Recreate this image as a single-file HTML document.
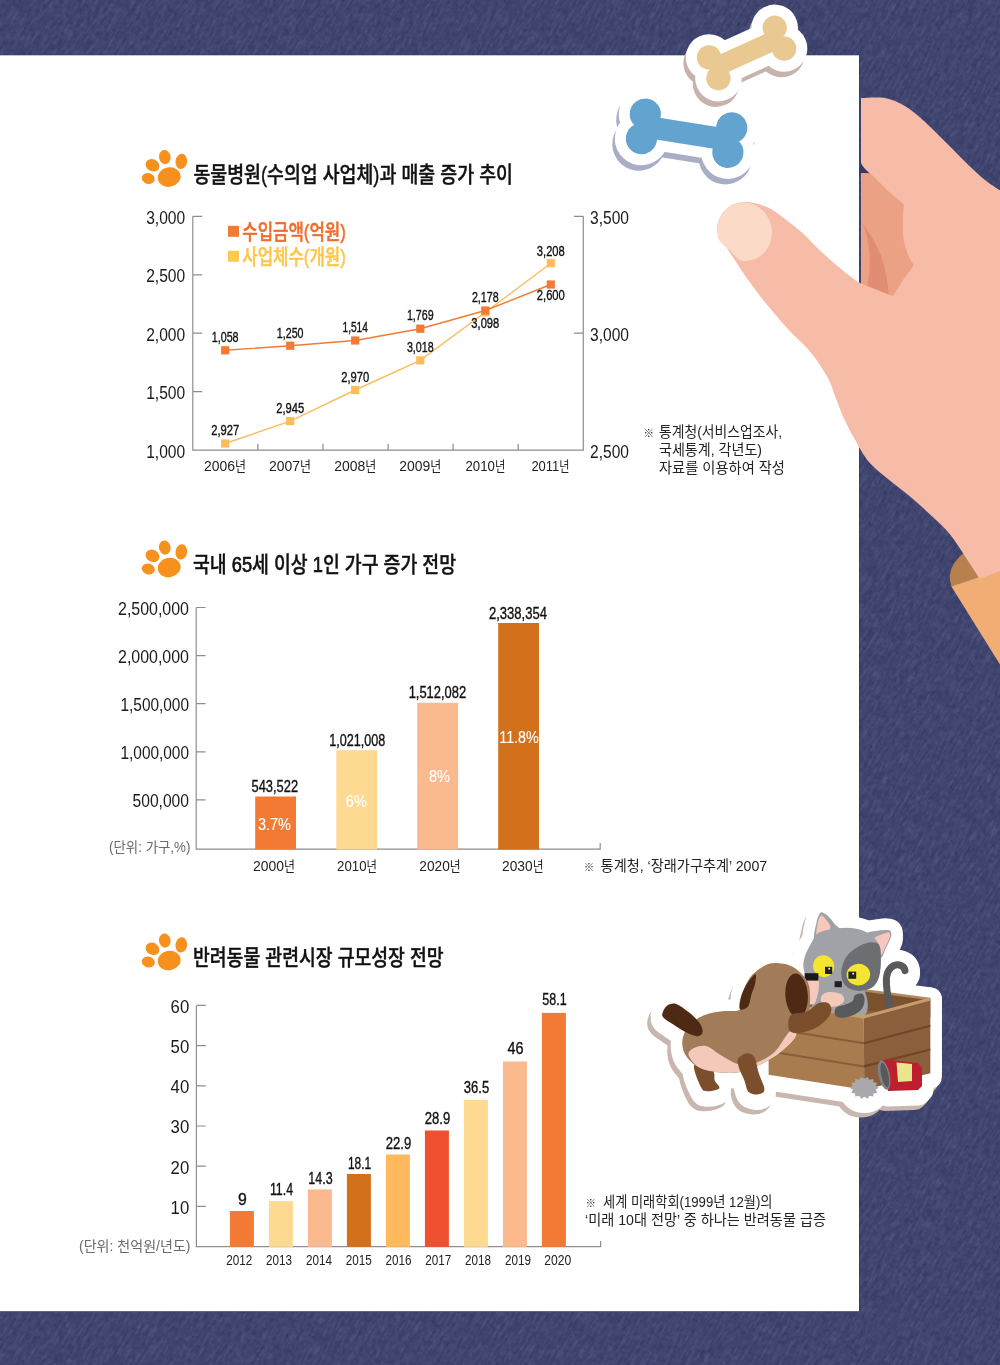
<!DOCTYPE html>
<html lang="ko">
<head>
<meta charset="utf-8">
<title>반려동물 관련 통계</title>
<style>
html,body{margin:0;padding:0;background:#3e446d;}
body{width:1000px;height:1365px;overflow:hidden;}
svg{display:block;font-family:'Liberation Sans','Noto Sans CJK KR',sans-serif;}
text{white-space:pre;}
</style>
</head>
<body>
<svg width="1000" height="1365" viewBox="0 0 1000 1365">
<defs>
<filter id="tex" x="0" y="0" width="100%" height="100%" color-interpolation-filters="sRGB">
<feTurbulence type="fractalNoise" baseFrequency="0.07 0.4" numOctaves="3" seed="11" result="n"/>
<feColorMatrix in="n" type="matrix" values="0 0 0 0 0.44  0 0 0 0 0.46  0 0 0 0 0.66  1.6 1.6 0 0 -1.25"/>
</filter>
<filter id="tex2" x="0" y="0" width="100%" height="100%" color-interpolation-filters="sRGB">
<feTurbulence type="fractalNoise" baseFrequency="0.22" numOctaves="3" seed="3" result="n"/>
<feColorMatrix in="n" type="matrix" values="0 0 0 0 0.15  0 0 0 0 0.16  0 0 0 0 0.32  1.6 0 1.6 0 -1.3"/>
</filter>
<g id="bnT" transform="translate(746.6,53) rotate(-24.3)"><rect x="-36" y="-9.75" width="72" height="19.5"/><circle cx="-36" cy="-11.4" r="12.2"/><circle cx="-36" cy="11.4" r="12.2"/><circle cx="36" cy="-11.4" r="12.2"/><circle cx="36" cy="11.4" r="12.2"/></g><g id="bnB" transform="translate(686.6,133.2) rotate(9)"><rect x="-43.75" y="-11" width="87.5" height="22"/><circle cx="-43.75" cy="-12.4" r="15.6"/><circle cx="-43.75" cy="12.4" r="15.6"/><circle cx="43.75" cy="-12.4" r="15.6"/><circle cx="43.75" cy="12.4" r="15.6"/></g>
<g id="anim"><path d="M662.5 1012.9C663.1 1011.0 664.8 1007.2 667.0 1005.7C669.2 1004.2 672.4 1002.9 676.0 1003.9C679.6 1004.9 684.7 1008.9 688.6 1012.0C692.5 1015.1 697.1 1019.5 699.4 1022.8C701.7 1026.1 702.9 1029.5 702.6 1031.8C702.3 1034.0 700.5 1036.3 697.6 1036.3C694.7 1036.3 689.5 1034.0 685.0 1031.8C680.5 1029.5 674.2 1025.2 670.6 1022.8C667.0 1020.4 664.8 1019.0 663.4 1017.4C662.0 1015.8 661.9 1014.8 662.5 1012.9Z" /><path d="M775.0 963.0C780.1 963.0 787.6 963.9 793.0 967.0C798.4 970.1 804.5 976.0 807.4 981.4C810.2 986.8 810.1 993.7 810.1 999.4C810.1 1005.1 809.4 1010.5 807.4 1015.6C805.4 1020.7 800.8 1025.8 798.4 1030.0C796.0 1034.2 796.6 1036.6 793.0 1040.8C789.4 1045.0 782.8 1051.0 776.8 1055.2C770.8 1059.4 763.3 1063.2 757.0 1066.0C750.7 1068.8 745.6 1071.2 739.0 1072.3C732.4 1073.3 724.0 1073.0 717.4 1072.3C710.8 1071.5 704.5 1070.3 699.4 1067.8C694.3 1065.2 689.6 1060.9 686.8 1057.0C683.9 1053.1 682.6 1048.6 682.3 1044.4C682.0 1040.2 683.0 1035.7 685.0 1031.8C687.0 1027.9 690.1 1024.0 694.0 1021.0C697.9 1018.0 703.3 1015.4 708.4 1013.8C713.5 1012.1 719.2 1011.9 724.6 1011.1C730.0 1010.4 737.8 1012.1 740.8 1009.3C743.8 1006.4 741.1 999.2 742.6 994.0C744.1 988.8 746.5 982.3 749.8 977.8C753.1 973.3 758.2 969.5 762.4 967.0C766.6 964.5 769.9 963.0 775.0 963.0Z" /><path d="M694.0 1066.0C693.2 1070.3 699.1 1083.4 701.2 1087.6C703.3 1091.8 703.9 1090.9 706.6 1091.2C709.3 1091.5 715.3 1090.2 717.4 1089.4C719.5 1088.7 719.7 1088.2 719.2 1086.7C718.8 1085.2 715.6 1082.8 714.7 1080.4C713.8 1078.0 715.2 1075.4 713.8 1072.3C712.3 1069.2 709.3 1063.0 706.0 1062.0C702.7 1061.0 694.8 1061.7 694.0 1066.0Z" /><path d="M738.1 1058.8C739.3 1056.4 743.5 1053.7 746.2 1053.4C748.9 1053.1 752.2 1053.7 754.3 1057.0C756.4 1060.3 757.1 1068.1 758.8 1073.2C760.4 1078.3 763.6 1084.3 764.2 1087.6C764.8 1090.9 763.9 1091.9 762.4 1093.0C760.9 1094.1 757.6 1094.7 755.2 1094.4C752.8 1094.1 749.8 1093.5 748.0 1091.2C746.2 1088.9 745.9 1084.3 744.4 1080.4C742.9 1076.5 740.0 1071.4 739.0 1067.8C738.0 1064.2 736.9 1061.2 738.1 1058.8Z" /><path d="M790.8 1015.2C793.8 1012.2 802.5 1013.6 807.0 1011.6C811.5 1009.6 814.5 1005.0 817.8 1003.5C821.1 1002.0 824.5 1001.9 826.8 1002.6C829.0 1003.4 831.0 1005.6 831.3 1008.0C831.6 1010.4 831.1 1013.7 828.6 1017.0C826.1 1020.3 821.1 1025.1 816.0 1027.8C810.9 1030.5 802.5 1032.9 798.0 1033.2C793.5 1033.5 790.2 1032.6 789.0 1029.6C787.8 1026.6 787.8 1018.2 790.8 1015.2Z" /><path d="M819.0 932.6C823.2 930.3 831.0 929.1 837.0 928.4C843.0 927.7 849.6 927.5 855.0 928.4C860.4 929.3 865.4 931.1 869.4 933.8C873.4 936.5 877.1 940.4 879.0 944.6C880.9 948.8 880.8 953.6 880.8 959.0C880.8 964.4 880.5 972.2 879.0 977.0C877.5 981.8 875.8 985.4 871.8 987.8C867.8 990.2 860.8 991.2 855.0 991.4C849.2 991.6 842.6 989.8 837.0 989.0C831.4 988.2 826.2 988.2 821.4 986.6C816.6 985.0 811.2 982.6 808.2 979.4C805.2 976.2 803.9 971.4 803.4 967.4C802.9 963.4 803.8 959.6 805.2 955.4C806.6 951.2 809.5 946.0 811.8 942.2C814.1 938.4 814.8 934.9 819.0 932.6Z" /><path d="M815.2 940.0C812.1 938.9 815.7 926.7 816.4 923.0C817.1 919.3 819.1 913.6 820.6 912.6C822.1 911.6 825.5 914.1 827.4 915.6C829.3 917.1 833.1 922.1 834.8 924.2C836.5 926.3 842.6 928.9 840.0 931.0C837.4 933.1 818.3 941.1 815.2 940.0Z" /><path d="M866.0 935.0C865.9 931.3 875.8 931.2 879.0 930.6C882.2 930.0 888.2 929.7 889.8 930.4C891.4 931.1 891.7 934.0 891.2 936.2C890.7 938.4 888.0 944.0 886.4 947.0C884.8 950.0 882.2 960.1 879.5 958.5C876.8 956.9 866.1 938.7 866.0 935.0Z" /><polygon points="768.6,1001.5 863.7,1017 930.3,999 835.3,986.5" /><polygon points="768.6,1001.5 863.7,1017 864.3,1089.7 768.6,1074.8" /><polygon points="863.7,1017 930.3,999 930.3,1073.2 864.3,1089.7" /><path d="M889.8 1008 C888 998 886 988 886.4 979.4 C886.8 968 894 964 899.5 965 C903 965.8 904.6 968 905 970.6" fill="none" stroke-width="30" stroke-linecap="round"/><ellipse cx="864.3" cy="1087.5" rx="13" ry="10"/><path d="M884 1059.5L918 1063L922 1068L922 1086L918 1090L888 1091Z"/><ellipse cx="796.6" cy="995.4" rx="11.2" ry="22"/></g><clipPath id="dogclip"><path d="M775.0 963.0C780.1 963.0 787.6 963.9 793.0 967.0C798.4 970.1 804.5 976.0 807.4 981.4C810.2 986.8 810.1 993.7 810.1 999.4C810.1 1005.1 809.4 1010.5 807.4 1015.6C805.4 1020.7 800.8 1025.8 798.4 1030.0C796.0 1034.2 796.6 1036.6 793.0 1040.8C789.4 1045.0 782.8 1051.0 776.8 1055.2C770.8 1059.4 763.3 1063.2 757.0 1066.0C750.7 1068.8 745.6 1071.2 739.0 1072.3C732.4 1073.3 724.0 1073.0 717.4 1072.3C710.8 1071.5 704.5 1070.3 699.4 1067.8C694.3 1065.2 689.6 1060.9 686.8 1057.0C683.9 1053.1 682.6 1048.6 682.3 1044.4C682.0 1040.2 683.0 1035.7 685.0 1031.8C687.0 1027.9 690.1 1024.0 694.0 1021.0C697.9 1018.0 703.3 1015.4 708.4 1013.8C713.5 1012.1 719.2 1011.9 724.6 1011.1C730.0 1010.4 737.8 1012.1 740.8 1009.3C743.8 1006.4 741.1 999.2 742.6 994.0C744.1 988.8 746.5 982.3 749.8 977.8C753.1 973.3 758.2 969.5 762.4 967.0C766.6 964.5 769.9 963.0 775.0 963.0Z"/></clipPath><clipPath id="cheadclip"><path d="M819.0 932.6C823.2 930.3 831.0 929.1 837.0 928.4C843.0 927.7 849.6 927.5 855.0 928.4C860.4 929.3 865.4 931.1 869.4 933.8C873.4 936.5 877.1 940.4 879.0 944.6C880.9 948.8 880.8 953.6 880.8 959.0C880.8 964.4 880.5 972.2 879.0 977.0C877.5 981.8 875.8 985.4 871.8 987.8C867.8 990.2 860.8 991.2 855.0 991.4C849.2 991.6 842.6 989.8 837.0 989.0C831.4 988.2 826.2 988.2 821.4 986.6C816.6 985.0 811.2 982.6 808.2 979.4C805.2 976.2 803.9 971.4 803.4 967.4C802.9 963.4 803.8 959.6 805.2 955.4C806.6 951.2 809.5 946.0 811.8 942.2C814.1 938.4 814.8 934.9 819.0 932.6Z"/></clipPath>
<clipPath id="thumbclip"><path d="M861.0 98.2C863.3 98.1 870.5 97.5 875.0 97.6C879.5 97.7 883.4 97.4 888.3 98.8C893.2 100.2 899.0 102.6 904.4 105.8C909.8 109.0 915.2 113.3 920.6 117.9C926.0 122.5 931.3 128.0 936.7 133.2C942.1 138.4 947.4 143.9 952.8 149.3C958.2 154.7 963.5 160.3 968.9 165.4C974.3 170.5 979.6 175.6 985.0 179.9C990.4 184.2 998.3 189.2 1001.0 191.0L1001 191 L1001 570.6 L979.6 578.8L962.6 552.5C960.4 549.4 954.6 539.8 949.5 533.8C944.4 527.8 938.6 522.5 932.0 516.3C925.4 510.1 917.3 502.7 910.0 496.5C902.7 490.3 894.6 484.5 888.0 479.0C881.4 473.5 875.0 468.7 870.3 463.5C865.5 458.3 861.9 451.8 859.5 448.0C857.1 444.2 857.4 443.6 855.9 441.0C854.4 438.4 852.5 435.4 850.7 432.2C849.0 429.0 847.2 425.4 845.4 421.6C843.6 417.8 841.9 413.7 840.1 409.3C838.3 404.9 836.5 400.0 834.8 395.3C833.0 390.6 831.6 385.6 829.6 381.2C827.6 376.8 824.9 372.7 822.5 368.9C820.1 365.1 818.1 361.9 815.5 358.4C812.9 354.9 809.6 351.0 806.7 347.8C803.8 344.6 800.8 341.9 797.9 339.0C795.0 336.1 792.0 333.3 789.1 330.2C786.2 327.1 783.2 323.9 780.3 320.5C777.4 317.1 774.4 313.5 771.5 310.0C768.6 306.5 765.6 303.2 762.7 299.5C759.8 295.8 756.9 292.0 754.0 288.0C751.1 284.0 748.1 279.9 745.2 275.7C742.3 271.4 739.3 266.9 736.4 262.5C733.5 258.1 730.2 253.1 727.6 249.3C725.0 245.5 722.3 242.5 720.5 239.5C718.7 236.5 717.5 234.1 717.0 231.5C716.5 228.9 716.8 226.9 717.6 224.0C718.4 221.1 719.9 217.0 722.0 214.0C724.1 211.0 727.0 208.1 730.0 206.2C733.0 204.3 736.5 203.2 740.0 202.6C743.5 202.0 746.3 201.8 751.0 202.6C755.7 203.4 762.3 204.9 768.0 207.6C773.7 210.3 779.3 214.8 785.0 218.9C790.7 223.1 796.3 227.4 802.0 232.5C807.7 237.6 813.3 244.1 819.0 249.5C824.7 254.9 830.3 260.0 836.0 264.8C841.7 269.6 848.8 275.3 853.0 278.4C857.2 281.5 859.7 282.6 861.0 283.5L861 283.5 Z"/></clipPath>
</defs>
<rect width="1000" height="1365" fill="#3e446d"/>
<g transform="rotate(-58 500 682)"><rect x="-500" y="-400" width="2000" height="2200" filter="url(#tex)" opacity="0.3"/></g>
<rect width="1000" height="1365" filter="url(#tex2)" opacity="0.3"/>
<rect x="-1" y="54.6" width="860.6" height="1257.2" fill="#2f3560" opacity="0.55"/>
<rect x="-1" y="55.3" width="860" height="1255.9" fill="#fff"/>
<path d="M966 551 Q950.5 563 949.8 575.5 Q949.6 581 951.4 586.6 L985 582 L985 560 Z" fill="#b9804f"/>
<path d="M951.4 586.4 L1001 570 L1001 666 Z" fill="#f0ad74"/>
<path d="M861.0 98.2C863.3 98.1 870.5 97.5 875.0 97.6C879.5 97.7 883.4 97.4 888.3 98.8C893.2 100.2 899.0 102.6 904.4 105.8C909.8 109.0 915.2 113.3 920.6 117.9C926.0 122.5 931.3 128.0 936.7 133.2C942.1 138.4 947.4 143.9 952.8 149.3C958.2 154.7 963.5 160.3 968.9 165.4C974.3 170.5 979.6 175.6 985.0 179.9C990.4 184.2 998.3 189.2 1001.0 191.0L1001 191 L1001 570.6 L979.6 578.8L962.6 552.5C960.4 549.4 954.6 539.8 949.5 533.8C944.4 527.8 938.6 522.5 932.0 516.3C925.4 510.1 917.3 502.7 910.0 496.5C902.7 490.3 894.6 484.5 888.0 479.0C881.4 473.5 875.0 468.7 870.3 463.5C865.5 458.3 861.9 451.8 859.5 448.0C857.1 444.2 857.4 443.6 855.9 441.0C854.4 438.4 852.5 435.4 850.7 432.2C849.0 429.0 847.2 425.4 845.4 421.6C843.6 417.8 841.9 413.7 840.1 409.3C838.3 404.9 836.5 400.0 834.8 395.3C833.0 390.6 831.6 385.6 829.6 381.2C827.6 376.8 824.9 372.7 822.5 368.9C820.1 365.1 818.1 361.9 815.5 358.4C812.9 354.9 809.6 351.0 806.7 347.8C803.8 344.6 800.8 341.9 797.9 339.0C795.0 336.1 792.0 333.3 789.1 330.2C786.2 327.1 783.2 323.9 780.3 320.5C777.4 317.1 774.4 313.5 771.5 310.0C768.6 306.5 765.6 303.2 762.7 299.5C759.8 295.8 756.9 292.0 754.0 288.0C751.1 284.0 748.1 279.9 745.2 275.7C742.3 271.4 739.3 266.9 736.4 262.5C733.5 258.1 730.2 253.1 727.6 249.3C725.0 245.5 722.3 242.5 720.5 239.5C718.7 236.5 717.5 234.1 717.0 231.5C716.5 228.9 716.8 226.9 717.6 224.0C718.4 221.1 719.9 217.0 722.0 214.0C724.1 211.0 727.0 208.1 730.0 206.2C733.0 204.3 736.5 203.2 740.0 202.6C743.5 202.0 746.3 201.8 751.0 202.6C755.7 203.4 762.3 204.9 768.0 207.6C773.7 210.3 779.3 214.8 785.0 218.9C790.7 223.1 796.3 227.4 802.0 232.5C807.7 237.6 813.3 244.1 819.0 249.5C824.7 254.9 830.3 260.0 836.0 264.8C841.7 269.6 848.8 275.3 853.0 278.4C857.2 281.5 859.7 282.6 861.0 283.5L861 283.5 Z" fill="#f6bca7"/>
<path d="M860.2 161.5 Q863 168 870 173.4 L860.2 173.4Z" fill="#343a62"/>
<path d="M861 173 L870.6 173.4 L888.3 191.2 L903.8 204.2 Q902.4 221 903 235 Q905 252 913.8 265.3 Q903 279 893 296 L861 283.5Z" fill="#eba284"/>
<path d="M862.4 223.4 Q874 238 881.5 257 Q887.5 276 888.8 294.4 L867.4 286 Q871.5 266 868.4 244 Q866.5 232 862.4 223.4Z" fill="#e08d73"/>
<ellipse cx="744.5" cy="231.7" rx="27.3" ry="29.3" transform="rotate(-12 744.5 231.7)" fill="#fbdbc8" clip-path="url(#thumbclip)"/>
<use href="#bnB" transform="translate(-2.5,5.5)" fill="#a8aec6" stroke="#a8aec6" stroke-width="22" stroke-linejoin="round"/>
<use href="#bnB" fill="#fff" stroke="#fff" stroke-width="22" stroke-linejoin="round"/>
<use href="#bnB" fill="#62a3d0"/>
<use href="#bnT" transform="translate(-2.5,5.5)" fill="#c7b3ab" stroke="#c7b3ab" stroke-width="22" stroke-linejoin="round"/>
<use href="#bnT" fill="#fff" stroke="#fff" stroke-width="22" stroke-linejoin="round"/>
<use href="#bnT" fill="#eac892"/>
<g transform="translate(142,150)" fill="#f7911e"><ellipse cx="27.2" cy="27.1" rx="11.5" ry="9.7" transform="rotate(-12 27.2 27.1)"/><ellipse cx="6.3" cy="28.5" rx="6.6" ry="5.4" transform="rotate(18 6.3 28.5)"/><ellipse cx="10.5" cy="15.3" rx="7.2" ry="6" transform="rotate(28 10.5 15.3)"/><ellipse cx="22.8" cy="7.1" rx="5.8" ry="7.1" transform="rotate(-10 22.8 7.1)"/><ellipse cx="39.3" cy="11.4" rx="5.8" ry="7.6" transform="rotate(8 39.3 11.4)"/></g>
<text x="193.4" y="181.6" font-size="21.3" textLength="319.5" lengthAdjust="spacingAndGlyphs" font-weight="500" fill="#111" stroke="#111" stroke-width="0.4">동물병원(수의업 사업체)과 매출 증가 추이</text>
<path d="M192.8 216.3V450.2H583.3V216.3M192.8 216.3h9.4M192.8 274.8h9.4M192.8 333.2h9.4M192.8 391.7h9.4M192.8 450.2h9.4M583.3 216.3h-9.4M583.3 333.2h-9.4M583.3 450.2h-9.4M257.9 450.2v-6.5M323.0 450.2v-6.5M388.1 450.2v-6.5M453.1 450.2v-6.5M518.2 450.2v-6.5" fill="none" stroke="#8e8e8e" stroke-width="1.2"/>
<text x="146.2" y="223.9" font-size="17.5" textLength="39" lengthAdjust="spacingAndGlyphs" fill="#1a1a1a">3,000</text>
<text x="146.2" y="282.375" font-size="17.5" textLength="39" lengthAdjust="spacingAndGlyphs" fill="#1a1a1a">2,500</text>
<text x="146.2" y="340.85" font-size="17.5" textLength="39" lengthAdjust="spacingAndGlyphs" fill="#1a1a1a">2,000</text>
<text x="146.2" y="399.325" font-size="17.5" textLength="39" lengthAdjust="spacingAndGlyphs" fill="#1a1a1a">1,500</text>
<text x="146.2" y="457.8" font-size="17.5" textLength="39" lengthAdjust="spacingAndGlyphs" fill="#1a1a1a">1,000</text>
<text x="590" y="223.9" font-size="17.5" textLength="39" lengthAdjust="spacingAndGlyphs" fill="#1a1a1a">3,500</text>
<text x="590" y="340.85" font-size="17.5" textLength="39" lengthAdjust="spacingAndGlyphs" fill="#1a1a1a">3,000</text>
<text x="590" y="457.8" font-size="17.5" textLength="39" lengthAdjust="spacingAndGlyphs" fill="#1a1a1a">2,500</text>
<rect x="228" y="225.8" width="11" height="11" fill="#f27a35"/>
<rect x="228" y="250.8" width="11" height="11" fill="#fdc952"/>
<text x="242.3" y="238.6" font-size="21" textLength="103.5" lengthAdjust="spacingAndGlyphs" font-weight="500" fill="#f26c2b" stroke="#f26c2b" stroke-width="0.5">수입금액(억원)</text>
<text x="242.3" y="264.3" font-size="21" textLength="103.5" lengthAdjust="spacingAndGlyphs" font-weight="500" fill="#fdc64a" stroke="#fdc64a" stroke-width="0.5">사업체수(개원)</text>
<polyline points="225.2,443.5 290.2,421.1 355.2,390 420.3,360.4 485.3,312.3 550.8,263.2" fill="none" stroke="#fdbc5c" stroke-width="1.4"/><rect x="221.1" y="439.4" width="8.2" height="8.2" fill="#fdbc5c"/><rect x="286.1" y="417" width="8.2" height="8.2" fill="#fdbc5c"/><rect x="351.1" y="385.9" width="8.2" height="8.2" fill="#fdbc5c"/><rect x="416.2" y="356.3" width="8.2" height="8.2" fill="#fdbc5c"/><rect x="481.2" y="308.2" width="8.2" height="8.2" fill="#fdbc5c"/><rect x="546.7" y="259.1" width="8.2" height="8.2" fill="#fdbc5c"/>
<polyline points="225.2,350.3 290.2,345.7 355.2,340.5 420.3,328.7 485.3,310.5 550.8,284.5" fill="none" stroke="#f27a35" stroke-width="1.4"/><rect x="221.1" y="346.2" width="8.2" height="8.2" fill="#f27a35"/><rect x="286.1" y="341.6" width="8.2" height="8.2" fill="#f27a35"/><rect x="351.1" y="336.4" width="8.2" height="8.2" fill="#f27a35"/><rect x="416.2" y="324.6" width="8.2" height="8.2" fill="#f27a35"/><rect x="481.2" y="306.4" width="8.2" height="8.2" fill="#f27a35"/><rect x="546.7" y="280.4" width="8.2" height="8.2" fill="#f27a35"/>
<text x="211.85" y="342.3" font-size="14.2" textLength="26.7" lengthAdjust="spacingAndGlyphs" fill="#111" stroke="#111" stroke-width="0.35">1,058</text>
<text x="276.85" y="337.5" font-size="14.2" textLength="26.7" lengthAdjust="spacingAndGlyphs" fill="#111" stroke="#111" stroke-width="0.35">1,250</text>
<text x="342.5" y="332" font-size="14.2" textLength="25.4" lengthAdjust="spacingAndGlyphs" fill="#111" stroke="#111" stroke-width="0.35">1,514</text>
<text x="406.95" y="320.2" font-size="14.2" textLength="26.7" lengthAdjust="spacingAndGlyphs" fill="#111" stroke="#111" stroke-width="0.35">1,769</text>
<text x="471.95" y="302.2" font-size="14.2" textLength="26.7" lengthAdjust="spacingAndGlyphs" fill="#111" stroke="#111" stroke-width="0.35">2,178</text>
<text x="536.8" y="300.2" font-size="14.2" textLength="28" lengthAdjust="spacingAndGlyphs" fill="#111" stroke="#111" stroke-width="0.35">2,600</text>
<text x="211.2" y="435.2" font-size="14.2" textLength="28" lengthAdjust="spacingAndGlyphs" fill="#111" stroke="#111" stroke-width="0.35">2,927</text>
<text x="276.2" y="413" font-size="14.2" textLength="28" lengthAdjust="spacingAndGlyphs" fill="#111" stroke="#111" stroke-width="0.35">2,945</text>
<text x="341.2" y="381.8" font-size="14.2" textLength="28" lengthAdjust="spacingAndGlyphs" fill="#111" stroke="#111" stroke-width="0.35">2,970</text>
<text x="406.95" y="351.5" font-size="14.2" textLength="26.7" lengthAdjust="spacingAndGlyphs" fill="#111" stroke="#111" stroke-width="0.35">3,018</text>
<text x="471.3" y="328.2" font-size="14.2" textLength="28" lengthAdjust="spacingAndGlyphs" fill="#111" stroke="#111" stroke-width="0.35">3,098</text>
<text x="536.8" y="255.8" font-size="14.2" textLength="28" lengthAdjust="spacingAndGlyphs" fill="#111" stroke="#111" stroke-width="0.35">3,208</text>
<text x="204" y="471.2" font-size="15.4" textLength="42" lengthAdjust="spacingAndGlyphs" fill="#222"><tspan font-size="15.4">2006</tspan><tspan font-size="13.2">년</tspan></text>
<text x="269.1" y="471.2" font-size="15.4" textLength="42" lengthAdjust="spacingAndGlyphs" fill="#222"><tspan font-size="15.4">2007</tspan><tspan font-size="13.2">년</tspan></text>
<text x="334.2" y="471.2" font-size="15.4" textLength="42" lengthAdjust="spacingAndGlyphs" fill="#222"><tspan font-size="15.4">2008</tspan><tspan font-size="13.2">년</tspan></text>
<text x="399.3" y="471.2" font-size="15.4" textLength="42" lengthAdjust="spacingAndGlyphs" fill="#222"><tspan font-size="15.4">2009</tspan><tspan font-size="13.2">년</tspan></text>
<text x="465.5" y="471.2" font-size="15.4" textLength="39.8" lengthAdjust="spacingAndGlyphs" fill="#222"><tspan font-size="15.4">2010</tspan><tspan font-size="13.2">년</tspan></text>
<text x="531.4" y="471.2" font-size="15.4" textLength="38.2" lengthAdjust="spacingAndGlyphs" fill="#222"><tspan font-size="15.4">2011</tspan><tspan font-size="13.2">년</tspan></text>
<text x="643.4" y="437.4" font-size="10.5" fill="#222">※</text>
<text x="659" y="437" font-size="14.5" textLength="123" lengthAdjust="spacingAndGlyphs" fill="#222">통계청(서비스업조사,</text>
<text x="659" y="455.2" font-size="14.5" textLength="103" lengthAdjust="spacingAndGlyphs" fill="#222">국세통계, 각년도)</text>
<text x="659" y="473.4" font-size="14.5" textLength="126" lengthAdjust="spacingAndGlyphs" fill="#222">자료를 이용하여 작성</text>
<g transform="translate(142,540.5)" fill="#f7911e"><ellipse cx="27.2" cy="27.1" rx="11.5" ry="9.7" transform="rotate(-12 27.2 27.1)"/><ellipse cx="6.3" cy="28.5" rx="6.6" ry="5.4" transform="rotate(18 6.3 28.5)"/><ellipse cx="10.5" cy="15.3" rx="7.2" ry="6" transform="rotate(28 10.5 15.3)"/><ellipse cx="22.8" cy="7.1" rx="5.8" ry="7.1" transform="rotate(-10 22.8 7.1)"/><ellipse cx="39.3" cy="11.4" rx="5.8" ry="7.6" transform="rotate(8 39.3 11.4)"/></g>
<text x="193" y="571.6" font-size="21.3" textLength="263" lengthAdjust="spacingAndGlyphs" font-weight="500" fill="#111" stroke="#111" stroke-width="0.4">국내 <tspan stroke-width="0.7">65</tspan>세 이상 <tspan stroke-width="0.7">1</tspan>인 가구 증가 전망</text>
<path d="M196.2 607.5V849.2H600.2v-6.3M196.2 607.5h9.4M196.2 655.6h9.4M196.2 703.7h9.4M196.2 751.8h9.4M196.2 799.9h9.4" fill="none" stroke="#8e8e8e" stroke-width="1.2"/>
<text x="118" y="614.9" font-size="17.5" textLength="71" lengthAdjust="spacingAndGlyphs" fill="#1a1a1a">2,500,000</text>
<text x="118" y="663" font-size="17.5" textLength="71" lengthAdjust="spacingAndGlyphs" fill="#1a1a1a">2,000,000</text>
<text x="120.5" y="711.1" font-size="17.5" textLength="68.5" lengthAdjust="spacingAndGlyphs" fill="#1a1a1a">1,500,000</text>
<text x="120.5" y="759.2" font-size="17.5" textLength="68.5" lengthAdjust="spacingAndGlyphs" fill="#1a1a1a">1,000,000</text>
<text x="132.5" y="807.3" font-size="17.5" textLength="56.5" lengthAdjust="spacingAndGlyphs" fill="#1a1a1a">500,000</text>
<rect x="255.2" y="796.5" width="40.8" height="53" fill="#f27a35"/>
<rect x="336.3" y="750.2" width="40.8" height="99.3" fill="#fdd992"/>
<rect x="417.3" y="702.8" width="40.8" height="146.7" fill="#fbb98e"/>
<rect x="498.2" y="623" width="40.8" height="226.5" fill="#d2701b"/>
<text x="251.55" y="791.5" font-size="16" textLength="46.5" lengthAdjust="spacingAndGlyphs" fill="#111" stroke="#111" stroke-width="0.35">543,522</text>
<text x="329.2" y="745.5" font-size="16" textLength="56" lengthAdjust="spacingAndGlyphs" fill="#111" stroke="#111" stroke-width="0.35">1,021,008</text>
<text x="408.65" y="698" font-size="16" textLength="57.5" lengthAdjust="spacingAndGlyphs" fill="#111" stroke="#111" stroke-width="0.35">1,512,082</text>
<text x="489" y="619.3" font-size="16" textLength="58" lengthAdjust="spacingAndGlyphs" fill="#111" stroke="#111" stroke-width="0.35">2,338,354</text>
<text x="257.9" y="829.8" font-size="16" textLength="33" lengthAdjust="spacingAndGlyphs" fill="#fff" stroke="#fff" stroke-width="0.15">3.7%</text>
<text x="345.8" y="806.5" font-size="16" textLength="21" lengthAdjust="spacingAndGlyphs" fill="#fff" stroke="#fff" stroke-width="0.15">6%</text>
<text x="428.9" y="781.7" font-size="16" textLength="21" lengthAdjust="spacingAndGlyphs" fill="#fff" stroke="#fff" stroke-width="0.15">8%</text>
<text x="499.25" y="742.5" font-size="16" textLength="39.5" lengthAdjust="spacingAndGlyphs" fill="#fff" stroke="#fff" stroke-width="0.15">11.8%</text>
<text x="253" y="870.8" font-size="15.4" textLength="42" lengthAdjust="spacingAndGlyphs" fill="#222"><tspan font-size="15.4">2000</tspan><tspan font-size="13.2">년</tspan></text>
<text x="337.1" y="870.8" font-size="15.4" textLength="39.8" lengthAdjust="spacingAndGlyphs" fill="#222"><tspan font-size="15.4">2010</tspan><tspan font-size="13.2">년</tspan></text>
<text x="419.3" y="870.8" font-size="15.4" textLength="41.4" lengthAdjust="spacingAndGlyphs" fill="#222"><tspan font-size="15.4">2020</tspan><tspan font-size="13.2">년</tspan></text>
<text x="502.1" y="870.8" font-size="15.4" textLength="41.4" lengthAdjust="spacingAndGlyphs" fill="#222"><tspan font-size="15.4">2030</tspan><tspan font-size="13.2">년</tspan></text>
<text x="109" y="851.6" font-size="14.2" textLength="81.5" lengthAdjust="spacingAndGlyphs" fill="#6a6a6a">(단위: 가구,%)</text>
<text x="583.8" y="870.6" font-size="10.5" fill="#222">※</text>
<text x="600.6" y="871" font-size="14.5" textLength="166.6" lengthAdjust="spacingAndGlyphs" fill="#222">통계청, ‘장래가구추계’ 2007</text>
<g transform="translate(142,933.5)" fill="#f7911e"><ellipse cx="27.2" cy="27.1" rx="11.5" ry="9.7" transform="rotate(-12 27.2 27.1)"/><ellipse cx="6.3" cy="28.5" rx="6.6" ry="5.4" transform="rotate(18 6.3 28.5)"/><ellipse cx="10.5" cy="15.3" rx="7.2" ry="6" transform="rotate(28 10.5 15.3)"/><ellipse cx="22.8" cy="7.1" rx="5.8" ry="7.1" transform="rotate(-10 22.8 7.1)"/><ellipse cx="39.3" cy="11.4" rx="5.8" ry="7.6" transform="rotate(8 39.3 11.4)"/></g>
<text x="193" y="964.9" font-size="21.3" textLength="250.6" lengthAdjust="spacingAndGlyphs" font-weight="500" fill="#111" stroke="#111" stroke-width="0.4">반려동물 관련시장 규모성장 전망</text>
<path d="M196.4 1005.4V1246.6H600.6v-5.5M196.4 1005.4h9.4M196.4 1045.6h9.4M196.4 1085.8h9.4M196.4 1126.0h9.4M196.4 1166.2h9.4M196.4 1206.4h9.4" fill="none" stroke="#8e8e8e" stroke-width="1.2"/>
<text x="170.6" y="1012.8" font-size="17.5" textLength="18.6" lengthAdjust="spacingAndGlyphs" fill="#1a1a1a">60</text>
<text x="170.6" y="1053" font-size="17.5" textLength="18.6" lengthAdjust="spacingAndGlyphs" fill="#1a1a1a">50</text>
<text x="170.6" y="1093.2" font-size="17.5" textLength="18.6" lengthAdjust="spacingAndGlyphs" fill="#1a1a1a">40</text>
<text x="170.6" y="1133.4" font-size="17.5" textLength="18.6" lengthAdjust="spacingAndGlyphs" fill="#1a1a1a">30</text>
<text x="170.6" y="1173.6" font-size="17.5" textLength="18.6" lengthAdjust="spacingAndGlyphs" fill="#1a1a1a">20</text>
<text x="170.6" y="1213.8" font-size="17.5" textLength="18.6" lengthAdjust="spacingAndGlyphs" fill="#1a1a1a">10</text>
<rect x="229.9" y="1211" width="24" height="35.9" fill="#f27a35"/>
<text x="238.1" y="1205" font-size="16.2" textLength="8.8" lengthAdjust="spacingAndGlyphs" fill="#111" stroke="#111" stroke-width="0.35">9</text>
<text x="226.3" y="1265.2" font-size="15" textLength="26" lengthAdjust="spacingAndGlyphs" fill="#222">2012</text>
<rect x="268.9" y="1201.1" width="24" height="45.8" fill="#fdd992"/>
<text x="269.9" y="1195.4" font-size="16.2" textLength="23.2" lengthAdjust="spacingAndGlyphs" fill="#111" stroke="#111" stroke-width="0.35">11.4</text>
<text x="266.1" y="1265.2" font-size="15" textLength="26" lengthAdjust="spacingAndGlyphs" fill="#222">2013</text>
<rect x="307.9" y="1189.4" width="24" height="57.5" fill="#fbb98e"/>
<text x="308.35" y="1184" font-size="16.2" textLength="24.3" lengthAdjust="spacingAndGlyphs" fill="#111" stroke="#111" stroke-width="0.35">14.3</text>
<text x="305.9" y="1265.2" font-size="15" textLength="26" lengthAdjust="spacingAndGlyphs" fill="#222">2014</text>
<rect x="346.9" y="1174" width="24" height="72.9" fill="#d2701b"/>
<text x="347.9" y="1168.6" font-size="16.2" textLength="23.2" lengthAdjust="spacingAndGlyphs" fill="#111" stroke="#111" stroke-width="0.35">18.1</text>
<text x="345.7" y="1265.2" font-size="15" textLength="26" lengthAdjust="spacingAndGlyphs" fill="#222">2015</text>
<rect x="385.9" y="1154.5" width="24" height="92.4" fill="#fdb95c"/>
<text x="385.8" y="1148.5" font-size="16.2" textLength="25.4" lengthAdjust="spacingAndGlyphs" fill="#111" stroke="#111" stroke-width="0.35">22.9</text>
<text x="385.5" y="1265.2" font-size="15" textLength="26" lengthAdjust="spacingAndGlyphs" fill="#222">2016</text>
<rect x="424.9" y="1130.5" width="24" height="116.4" fill="#ef5030"/>
<text x="424.8" y="1124" font-size="16.2" textLength="25.4" lengthAdjust="spacingAndGlyphs" fill="#111" stroke="#111" stroke-width="0.35">28.9</text>
<text x="425.3" y="1265.2" font-size="15" textLength="26" lengthAdjust="spacingAndGlyphs" fill="#222">2017</text>
<rect x="463.9" y="1099.9" width="24" height="147" fill="#fdd992"/>
<text x="463.8" y="1093" font-size="16.2" textLength="25.4" lengthAdjust="spacingAndGlyphs" fill="#111" stroke="#111" stroke-width="0.35">36.5</text>
<text x="465.1" y="1265.2" font-size="15" textLength="26" lengthAdjust="spacingAndGlyphs" fill="#222">2018</text>
<rect x="502.9" y="1061.5" width="24" height="185.4" fill="#fbb98e"/>
<text x="507.5" y="1053.6" font-size="16.2" textLength="16" lengthAdjust="spacingAndGlyphs" fill="#111" stroke="#111" stroke-width="0.35">46</text>
<text x="504.9" y="1265.2" font-size="15" textLength="26" lengthAdjust="spacingAndGlyphs" fill="#222">2019</text>
<rect x="541.9" y="1012.9" width="24" height="234" fill="#f27a35"/>
<text x="542.35" y="1005" font-size="16.2" textLength="24.3" lengthAdjust="spacingAndGlyphs" fill="#111" stroke="#111" stroke-width="0.35">58.1</text>
<text x="544.2" y="1265.2" font-size="15" textLength="27" lengthAdjust="spacingAndGlyphs" fill="#222">2020</text>
<text x="79" y="1250.6" font-size="14.2" textLength="111.5" lengthAdjust="spacingAndGlyphs" fill="#6a6a6a">(단위: 천억원/년도)</text>
<text x="585.6" y="1206.6" font-size="10.5" fill="#222">※</text>
<text x="603" y="1206.8" font-size="14.5" textLength="169.5" lengthAdjust="spacingAndGlyphs" fill="#222">세계 미래학회(1999년 12월)의</text>
<text x="585" y="1225.2" font-size="14.5" textLength="241" lengthAdjust="spacingAndGlyphs" fill="#222">‘미래 10대 전망’ 중 하나는 반려동물 급증</text>
<use href="#anim" transform="translate(-3.5,8.5)" fill="#c9b6ae" stroke="#c9b6ae" stroke-width="23" stroke-linejoin="round"/>
<use href="#anim" transform="translate(0,4)" fill="#fff" stroke="#fff" stroke-width="23" stroke-linejoin="round"/>
<use href="#anim" fill="#fff" stroke="#fff" stroke-width="23" stroke-linejoin="round"/>
<polygon points="768.6,1001.5 863.7,1017 930.3,999 835.3,986.5" fill="#8c6239" />
<polygon points="835.3,986.5 930.3,999 930.3,1017.55 835.3,1007.35" fill="#7b5230" />
<path d="M835.3 986.5L930.3 999" stroke="#b58a5a" stroke-width="2.4" fill="none"/>
<path d="M889.8 1008 C888 998 886 988 886.4 979.4 C886.8 968 894 964 899.5 965 C903 965.8 904.6 968 905 970.6" fill="none" stroke="#58595b" stroke-width="7" stroke-linecap="round"/>
<path d="M815.2 940.0C812.1 938.9 815.7 926.7 816.4 923.0C817.1 919.3 819.1 913.6 820.6 912.6C822.1 911.6 825.5 914.1 827.4 915.6C829.3 917.1 833.1 922.1 834.8 924.2C836.5 926.3 842.6 928.9 840.0 931.0C837.4 933.1 818.3 941.1 815.2 940.0Z" fill="#a1a2a8" />
<path d="M866.0 935.0C865.9 931.3 875.8 931.2 879.0 930.6C882.2 930.0 888.2 929.7 889.8 930.4C891.4 931.1 891.7 934.0 891.2 936.2C890.7 938.4 888.0 944.0 886.4 947.0C884.8 950.0 882.2 960.1 879.5 958.5C876.8 956.9 866.1 938.7 866.0 935.0Z" fill="#a1a2a8" />
<path d="M816.4 938.0C815.3 936.6 817.0 926.5 817.6 923.5C818.2 920.5 820.0 916.3 821.0 915.6C822.0 914.9 823.9 916.9 825.2 918.4C826.5 919.9 830.3 924.5 830.4 926.6C830.5 928.7 827.9 932.5 826.0 934.0C824.1 935.5 817.5 939.4 816.4 938.0Z" fill="#f6c7ba" />
<path d="M871.8 941.0C871.7 938.4 877.1 936.3 879.4 935.2C881.7 934.1 887.4 932.2 888.8 932.4C890.2 932.6 890.5 934.9 890.0 936.8C889.5 938.7 886.7 944.6 885.4 947.0C884.1 949.4 882.2 955.8 880.4 955.0C878.6 954.2 871.9 943.6 871.8 941.0Z" fill="#f6c7ba" />
<path d="M819.0 985.0C825.3 981.5 856.0 983.9 862.0 988.0C868.0 992.1 870.3 1012.5 864.0 1016.0C857.7 1019.5 821.0 1018.1 815.0 1014.0C809.0 1009.9 812.7 988.5 819.0 985.0Z" fill="#a1a2a8" />
<path d="M821.4 996.2C822.4 994.1 825.4 992.4 828.6 992.0C831.8 991.6 838.0 992.5 840.6 993.8C843.2 995.1 844.2 998.0 844.2 999.8C844.2 1001.6 842.8 1003.4 840.6 1004.6C838.4 1005.8 834.0 1007.0 831.0 1007.0C828.0 1007.0 824.2 1006.4 822.6 1004.6C821.0 1002.8 820.4 998.3 821.4 996.2Z" fill="#f4c9b9" />
<path d="M819.0 932.6C823.2 930.3 831.0 929.1 837.0 928.4C843.0 927.7 849.6 927.5 855.0 928.4C860.4 929.3 865.4 931.1 869.4 933.8C873.4 936.5 877.1 940.4 879.0 944.6C880.9 948.8 880.8 953.6 880.8 959.0C880.8 964.4 880.5 972.2 879.0 977.0C877.5 981.8 875.8 985.4 871.8 987.8C867.8 990.2 860.8 991.2 855.0 991.4C849.2 991.6 842.6 989.8 837.0 989.0C831.4 988.2 826.2 988.2 821.4 986.6C816.6 985.0 811.2 982.6 808.2 979.4C805.2 976.2 803.9 971.4 803.4 967.4C802.9 963.4 803.8 959.6 805.2 955.4C806.6 951.2 809.5 946.0 811.8 942.2C814.1 938.4 814.8 934.9 819.0 932.6Z" fill="#a1a2a8" />
<path d="M871.8 942.2C868.4 942.2 864.0 943.4 859.8 945.8C855.6 948.2 849.7 952.2 846.6 956.6C843.5 961.0 841.4 967.4 841.2 972.2C841.0 977.0 842.7 982.3 845.4 985.4C848.1 988.5 853.0 990.4 857.4 990.8C861.8 991.2 868.2 990.1 871.8 987.8C875.4 985.5 877.3 981.8 879.0 977.0C880.7 972.2 881.8 964.2 882.0 959.0C882.2 953.8 881.7 948.6 880.0 945.8C878.3 943.0 875.2 942.2 871.8 942.2Z" fill="#6d6e71" clip-path="url(#cheadclip)"/>
<ellipse cx="823.6" cy="966.2" rx="10.6" ry="11" transform="rotate(-20 823.6 966.2)" fill="#f3e532"/>
<ellipse cx="858.4" cy="974.6" rx="11.8" ry="10.8" transform="rotate(-8 858.4 974.6)" fill="#f3e532"/>
<rect x="825" y="966.8" width="7.2" height="7.2" fill="#231f20"/><rect x="828.4" y="967.8" width="1.7" height="1.7" fill="#fff"/>
<rect x="848.4" y="971.6" width="7.8" height="7.2" fill="#231f20"/><rect x="852.4" y="972.8" width="1.7" height="1.7" fill="#fff"/>
<rect x="834.6" y="981.2" width="7.2" height="6" fill="#231f20"/>
<polygon points="768.6,1001.5 863.7,1017 864.3,1089.7 768.6,1074.8" fill="#a97c50" />
<polygon points="863.7,1017 930.3,999 930.3,1073.2 864.3,1089.7" fill="#8b5e3c" />
<path d="M768.6 1027.9L863.9 1043.2" stroke="#8a5d38" stroke-width="2" fill="none"/>
<path d="M863.9 1043.2L930.3 1025.7" stroke="#6f4724" stroke-width="2.2" fill="none"/>
<path d="M768.6 1051.3L864.1 1066.4" stroke="#8a5d38" stroke-width="2" fill="none"/>
<path d="M864.1 1066.4L930.3 1049.5" stroke="#6f4724" stroke-width="2.2" fill="none"/>
<path d="M768.6 1001.5L863.7 1017L930.3 999" stroke="#c69c6d" stroke-width="3" fill="none" stroke-linejoin="round"/>
<path d="M834.6 1011.8C834.8 1010.3 835.2 1008.2 837.0 1007.0C838.8 1005.8 842.8 1005.6 845.4 1004.6C848.0 1003.6 851.0 1002.6 852.6 1001.0C854.2 999.4 853.4 996.2 855.0 995.0C856.6 993.8 860.6 993.0 862.2 993.8C863.8 994.6 864.6 997.4 864.6 999.8C864.6 1002.2 863.8 1005.8 862.2 1008.2C860.6 1010.6 858.2 1012.6 855.0 1014.2C851.8 1015.8 846.2 1017.5 843.0 1017.8C839.8 1018.1 837.2 1017.0 835.8 1016.0C834.4 1015.0 834.4 1013.3 834.6 1011.8Z" fill="#58595b" />
<path d="M884 1059.5L918 1063L922 1068L922 1086L918 1090L888 1091Z" fill="#be1e2d"/>
<path d="M896.5 1062.5L912 1064L912 1081L898 1082Z" fill="#ece58f"/>
<ellipse cx="884.2" cy="1075" rx="5.6" ry="15" transform="rotate(-12 884.2 1075)" fill="#808285"/>
<ellipse cx="884.8" cy="1075" rx="3.6" ry="12.4" transform="rotate(-12 884.8 1075)" fill="#58595b"/>
<polygon points="878.9,1087.8 875.687,1089.79 877.454,1092.66 873.432,1093.39 873.403,1096.56 869.368,1095.87 867.549,1098.72 864.3,1096.76 861.051,1098.72 859.232,1095.87 855.197,1096.56 855.168,1093.39 851.146,1092.66 852.913,1089.79 849.7,1087.8 852.913,1085.81 851.146,1082.94 855.168,1082.21 855.197,1079.04 859.232,1079.73 861.051,1076.88 864.3,1078.84 867.549,1076.88 869.368,1079.73 873.403,1079.04 873.432,1082.21 877.454,1082.94 875.687,1085.81" fill="#a7a9ac" />
<path d="M694.0 1066.0C693.2 1070.3 699.1 1083.4 701.2 1087.6C703.3 1091.8 703.9 1090.9 706.6 1091.2C709.3 1091.5 715.3 1090.2 717.4 1089.4C719.5 1088.7 719.7 1088.2 719.2 1086.7C718.8 1085.2 715.6 1082.8 714.7 1080.4C713.8 1078.0 715.2 1075.4 713.8 1072.3C712.3 1069.2 709.3 1063.0 706.0 1062.0C702.7 1061.0 694.8 1061.7 694.0 1066.0Z" fill="#7b4e2c" />
<path d="M805.6 978.0C806.6 975.5 816.9 976.8 818.2 978.0C819.5 979.2 818.9 987.5 818.6 990.0C818.3 992.5 816.1 1001.7 815.0 1003.0C813.9 1004.3 808.9 1005.5 808.0 1003.0C807.1 1000.5 804.6 980.5 805.6 978.0Z" fill="#f4c9b9" />
<rect x="804.6" y="973.2" width="13.8" height="7.4" fill="#1a1a1a"/>
<path d="M775.0 963.0C780.1 963.0 787.6 963.9 793.0 967.0C798.4 970.1 804.5 976.0 807.4 981.4C810.2 986.8 810.1 993.7 810.1 999.4C810.1 1005.1 809.4 1010.5 807.4 1015.6C805.4 1020.7 800.8 1025.8 798.4 1030.0C796.0 1034.2 796.6 1036.6 793.0 1040.8C789.4 1045.0 782.8 1051.0 776.8 1055.2C770.8 1059.4 763.3 1063.2 757.0 1066.0C750.7 1068.8 745.6 1071.2 739.0 1072.3C732.4 1073.3 724.0 1073.0 717.4 1072.3C710.8 1071.5 704.5 1070.3 699.4 1067.8C694.3 1065.2 689.6 1060.9 686.8 1057.0C683.9 1053.1 682.6 1048.6 682.3 1044.4C682.0 1040.2 683.0 1035.7 685.0 1031.8C687.0 1027.9 690.1 1024.0 694.0 1021.0C697.9 1018.0 703.3 1015.4 708.4 1013.8C713.5 1012.1 719.2 1011.9 724.6 1011.1C730.0 1010.4 737.8 1012.1 740.8 1009.3C743.8 1006.4 741.1 999.2 742.6 994.0C744.1 988.8 746.5 982.3 749.8 977.8C753.1 973.3 758.2 969.5 762.4 967.0C766.6 964.5 769.9 963.0 775.0 963.0Z" fill="#a27b58" />
<path d="M688.6 1055.2C687.7 1051.9 691.0 1049.5 694.0 1048.0C697.0 1046.5 702.1 1045.0 706.6 1046.2C711.1 1047.4 715.6 1052.2 721.0 1055.2C726.4 1058.2 733.0 1063.0 739.0 1064.2C745.0 1065.4 751.0 1064.5 757.0 1062.4C763.0 1060.3 769.6 1056.7 775.0 1051.6C780.4 1046.5 785.8 1034.8 789.4 1031.8C793.0 1028.8 796.0 1032.1 796.6 1033.6C797.2 1035.1 796.3 1037.2 793.0 1040.8C789.7 1044.4 782.8 1051.0 776.8 1055.2C770.8 1059.4 763.3 1063.2 757.0 1066.0C750.7 1068.8 745.6 1071.2 739.0 1072.3C732.4 1073.3 724.0 1073.0 717.4 1072.3C710.8 1071.5 704.2 1070.6 699.4 1067.8C694.6 1065.0 689.5 1058.5 688.6 1055.2Z" fill="#f4c9b9" clip-path="url(#dogclip)"/>
<path d="M662.5 1012.9C663.1 1011.0 664.8 1007.2 667.0 1005.7C669.2 1004.2 672.4 1002.9 676.0 1003.9C679.6 1004.9 684.7 1008.9 688.6 1012.0C692.5 1015.1 697.1 1019.5 699.4 1022.8C701.7 1026.1 702.9 1029.5 702.6 1031.8C702.3 1034.0 700.5 1036.3 697.6 1036.3C694.7 1036.3 689.5 1034.0 685.0 1031.8C680.5 1029.5 674.2 1025.2 670.6 1022.8C667.0 1020.4 664.8 1019.0 663.4 1017.4C662.0 1015.8 661.9 1014.8 662.5 1012.9Z" fill="#4e2a15" />
<path d="M755.2 974.2C753.7 974.5 748.6 981.1 746.2 985.0C743.8 988.9 741.8 993.6 740.8 997.6C739.8 1001.6 738.7 1007.8 739.9 1009.3C741.1 1010.8 746.0 1009.1 748.0 1006.6C750.0 1004.1 750.4 997.9 751.6 994.0C752.8 990.1 754.6 986.5 755.2 983.2C755.8 979.9 756.7 973.9 755.2 974.2Z" fill="#4e2a15" />
<ellipse cx="796.6" cy="995.4" rx="11.2" ry="22" transform="rotate(-4 796.6 995.4)" fill="#4e2a15"/>
<path d="M790.8 1015.2C793.8 1012.2 802.5 1013.6 807.0 1011.6C811.5 1009.6 814.5 1005.0 817.8 1003.5C821.1 1002.0 824.5 1001.9 826.8 1002.6C829.0 1003.4 831.0 1005.6 831.3 1008.0C831.6 1010.4 831.1 1013.7 828.6 1017.0C826.1 1020.3 821.1 1025.1 816.0 1027.8C810.9 1030.5 802.5 1032.9 798.0 1033.2C793.5 1033.5 790.2 1032.6 789.0 1029.6C787.8 1026.6 787.8 1018.2 790.8 1015.2Z" fill="#7b4e2c" />
<path d="M738.1 1058.8C739.3 1056.4 743.5 1053.7 746.2 1053.4C748.9 1053.1 752.2 1053.7 754.3 1057.0C756.4 1060.3 757.1 1068.1 758.8 1073.2C760.4 1078.3 763.6 1084.3 764.2 1087.6C764.8 1090.9 763.9 1091.9 762.4 1093.0C760.9 1094.1 757.6 1094.7 755.2 1094.4C752.8 1094.1 749.8 1093.5 748.0 1091.2C746.2 1088.9 745.9 1084.3 744.4 1080.4C742.9 1076.5 740.0 1071.4 739.0 1067.8C738.0 1064.2 736.9 1061.2 738.1 1058.8Z" fill="#7b4e2c" />
</svg>
</body>
</html>
